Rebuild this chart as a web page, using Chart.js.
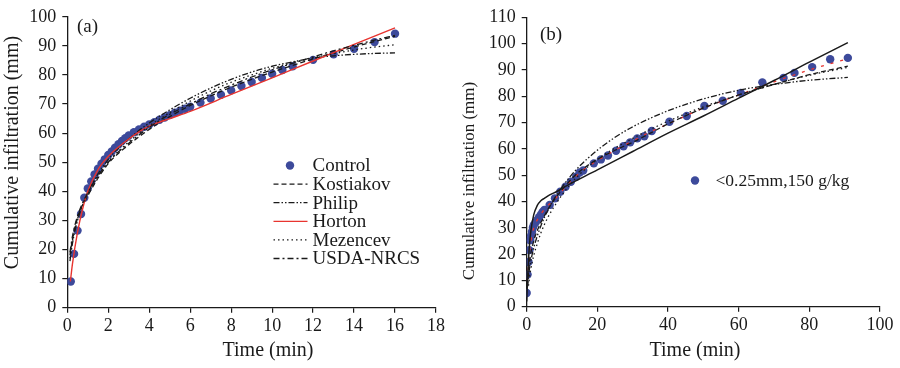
<!DOCTYPE html>
<html><head><meta charset="utf-8">
<script src="https://cdn.jsdelivr.net/npm/chart.js@4/dist/chart.umd.min.js"></script>
<style>
html,body{margin:0;padding:0;background:#fff;width:900px;height:368px;overflow:hidden}
canvas{position:absolute;top:0}
#ca{left:0}#cb{left:450px}
</style></head><body>
<canvas id="ca" width="450" height="368"></canvas>
<canvas id="cb" width="450" height="368"></canvas>
<script>
// ---------- Panel (a) data ----------
const tA = [0.17,0.33,0.5,0.67,0.83,1,1.17,1.33,1.5,1.67,1.83,2,2.17,2.33,2.5,2.67,2.83,3,3.25,3.5,3.75,4,4.25,4.5,4.75,5,5.25,5.5,5.75,6,6.5,7,7.5,8,8.5,9,9.5,10,10.5,11,12,13,14,15,16];
const controlA = [9,18.5,26.5,32.2,37.8,41,43.4,45.8,47.8,49.5,51,52.5,53.7,55,56.2,57.3,58.3,59.2,60.3,61.3,62.2,63,63.8,64.6,65.4,66.2,67,67.7,68.4,69.1,70.5,71.9,73.2,74.7,76.2,77.6,79,80.4,81.7,83,85.2,87.1,89,91.3,94.2];
const tModelA = [0.13,0.25,0.5,1,2,3,4,5,6,7,8,9,10,11,12,13,14,15,16];
const kostiakovA = [18,23.5,31,38.5,49.5,56,61.3,65.7,69.5,72.8,75.8,78.5,81,83.3,85.5,87.6,89.6,91.5,93.3];
const philipA = [16,22,30,39.5,51,58,63.5,68,72,75.5,78.5,81,83,84.5,85.8,86.6,87.1,87.4,87.6];
const mezencevA = [17,23,30.5,39,50,57,62.5,67,71,74.5,77.5,80,82.3,84.2,85.9,87.3,88.6,89.6,90.4];
const usdaA = [19,24.5,31.5,39.5,50,56.5,62,66.5,70,73.5,76.5,79.3,81.8,84,86.2,88.3,90.2,92,93.6];
const tHortonA = [0.15,0.25,0.5,0.75,1,1.5,2,3,4,5,6,8,10,12,14,16];
const hortonA = [9,15,26,34,40,47.5,52,58,62.4,65,67.5,73.3,79,84.8,90.5,96.2];
const legendA = ["Control","Kostiakov","Philip","Horton","Mezencev","USDA-NRCS"];
const xTicksA = [0,18,2]; const yTicksA = [0,100,10];

// ---------- Panel (b) data ----------
const tB = [0,0.25,0.5,0.75,1,1.25,1.5,1.75,2,2.5,3,3.5,4,4.5,5,6.5,8,9.5,11,12.5,14,15,16,19,21,23,25.3,27.4,29.3,31.3,33.3,35.4,40.4,45.3,50.3,55.5,60.6,66.7,72.7,75.8,80.8,85.9,90.9];
const soilB = [5.2,12.2,17,21.5,25.3,27,28.5,30,31,32,33,34,35,36,36.8,38.7,41.2,43.7,45.6,47.5,49.4,51,51.8,54.5,56,57.5,59.3,61,62.5,64,64.8,66.8,70.3,72.5,76.3,78.3,81.3,85.3,87,88.9,91.1,94.1,94.6];
const tSolidB = [0,0.3,0.7,1.2,2,3,4,5,6.5,8.5,10.5,20,30,40,50,60,70,80,90.9];
const solidB = [2,12,22,29,35,38.5,40.3,41.2,42.5,43.8,45.4,52,59,66,72.5,79.3,86,93,100.4];
const tDashB = [0.2,0.5,1,2,3,4,5,6,8,10,13,16,20,25,30,35,40,50,60,70,80,90.9];
const dashB = [8,13,19,25,29,32,34.5,37,41,44.5,49,52.5,56,59.5,62.5,66,69.5,75.5,80.5,84.5,88.2,91.5];
const tPhilipB = [0.2,0.5,1,2,3,4,5,6,8,10,14,20,25,30,40,50,60,70,80,90.9];
const philipB = [7.4,11.6,16.2,22.4,26.9,30.7,33.9,36.7,41.5,45.5,52.1,59.5,64.4,68.4,74.5,79,82.3,84.5,86.1,87.2];
const tRedB = [0.2,0.5,1,2,3,5,8,10,13,16,20,25,30,35,40,50,60,70,80,90.9];
const redB = [10,16,23,30,33,37,41,44,48.5,52,55.5,59.5,63,66.5,69.5,75.5,80.5,85.5,90,94.3];
const tDotB = [0.5,1,2,3,4,6,8,10,14,20,30,40,50,60,70,80,90.9];
const dotB = [8,13,19.5,24,28,34,38.5,42.5,49,56,64,70.5,76,80.5,84.5,88,91];
const legendB = ["<0.25mm,150 g/kg"];
const xTicksB = [0,100,20]; const yTicksB = [0,110,10];

// ---------- helpers ----------
const SERIF = "'Liberation Serif','Times New Roman',serif";
const BLUE = '#3d4a9b', RED = '#e8342f', INK = '#1a1a1a';
const pts = (t, v) => t.map((x, i) => ({x, y: v[i]}));
const DASH = {dash:[5,3], ddot:[6,2,1.5,2,1.5,2], dot:[1.5,3], dashdot:[6,3,2,3], solid:[], red:[3,7]};
function lineDS(label, t, v, color, dash, w){
  return {label, data: pts(t, v), showLine: true, pointRadius: 0, borderColor: color,
    borderWidth: w || 1.3, borderDash: dash, cubicInterpolationMode: 'monotone', fill: false};
}
function pointDS(label, t, v){
  return {label, data: pts(t, v), showLine: false, pointRadius: 4.2, pointBackgroundColor: BLUE,
    pointBorderColor: BLUE, pointBorderWidth: 0};
}
function scales(xt, yt, yW, xH){
  const tickFont = {family: SERIF, size: 18};
  const common = {grid:{display:true, drawOnChartArea:false, drawTicks:true, tickLength:5, color:INK, lineWidth:1.2},
    border:{display:true, color:INK, width:1.3}};
  return {
    x: Object.assign({type:'linear', min:xt[0], max:xt[1], ticks:{stepSize:xt[2], color:INK, font:tickFont, padding:3, maxRotation:0},
      afterFit(s){ s.height = xH; }}, common),
    y: Object.assign({type:'linear', min:yt[0], max:yt[1], ticks:{stepSize:yt[2], color:INK, font:tickFont, padding:6},
      afterFit(s){ s.width = yW; }}, common)
  };
}
function textPlugin(draw){ return {id:'txt'+Math.random().toString(36).slice(2), afterDraw(chart){ const c = chart.ctx; c.save(); draw(c); c.restore(); }}; }
function strokeSample(c, x1, x2, y, color, dash, w){
  c.beginPath(); c.setLineDash(dash); c.strokeStyle = color; c.lineWidth = w || 1.3;
  c.moveTo(x1, y); c.lineTo(x2, y); c.stroke(); c.setLineDash([]);
}

// ---------- Chart (a) ----------
new Chart(document.getElementById('ca'), {
  type: 'scatter',
  data: {datasets: [
    lineDS(legendA[5], tModelA, usdaA, INK, DASH.dashdot),
    lineDS(legendA[4], tModelA, mezencevA, INK, DASH.dot),
    lineDS(legendA[3], tHortonA, hortonA, RED, DASH.solid, 1.4),
    lineDS(legendA[2], tModelA, philipA, INK, DASH.ddot),
    lineDS(legendA[1], tModelA, kostiakovA, INK, DASH.dash),
    pointDS(legendA[0], tA, controlA)
  ]},
  options: {
    responsive: false, animation: false, events: [],
    layout: {padding: {left: 0, top: 13.7, right: 14, bottom: 0}},
    plugins: {legend: {display: false}, tooltip: {enabled: false}},
    scales: scales(xTicksA, yTicksA, 67.3, 60.3)
  },
  plugins: [textPlugin(c => {
    c.fillStyle = INK; c.textBaseline = 'middle';
    c.font = '19px ' + SERIF; c.textAlign = 'center';
    c.fillText('(a)', 87.5, 27);
    // axis titles
    c.font = '20px ' + SERIF;
    c.fillText('Time (min)', 268, 351);
    c.save(); c.translate(13, 152.5); c.rotate(-Math.PI/2); c.fillText('Cumulative infiltration (mm)', 0, 0); c.restore();
    // legend
    c.font = '19px ' + SERIF; c.textAlign = 'left';
    const styles = [null, [INK, DASH.dash], [INK, DASH.ddot], [RED, DASH.solid], [INK, DASH.dot], [INK, DASH.dashdot]];
    legendA.forEach((lab, i) => {
      const y = 165.5 + i * 18.6;
      if (i === 0) { c.beginPath(); c.fillStyle = BLUE; c.arc(290, y, 4.2, 0, Math.PI*2); c.fill(); c.fillStyle = INK; }
      else strokeSample(c, 273.5, 307.5, y, styles[i][0], styles[i][1], 1.3);
      c.fillText(lab, 312.5, y + 1);
    });
  })]
});

// ---------- Chart (b) ----------
new Chart(document.getElementById('cb'), {
  type: 'scatter',
  data: {datasets: [
    lineDS('solid', tSolidB, solidB, INK, DASH.solid, 1.5),
    lineDS('dash', tDashB, dashB, INK, DASH.dash),
    lineDS('dashdotdot', tPhilipB, philipB, INK, DASH.ddot),
    lineDS('dot', tDotB, dotB, INK, DASH.dot),
    lineDS('red', tRedB, redB, RED, DASH.red, 1.3),
    pointDS(legendB[0], tB, soilB)
  ]},
  options: {
    responsive: false, animation: false, events: [],
    layout: {padding: {left: 0, top: 17.4, right: 20, bottom: 0}},
    plugins: {legend: {display: false}, tooltip: {enabled: false}},
    scales: scales(xTicksB, yTicksB, 76.7, 61.3)
  },
  plugins: [textPlugin(c => {
    c.fillStyle = INK; c.textBaseline = 'middle';
    c.font = '19px ' + SERIF; c.textAlign = 'center';
    c.fillText('(b)', 101, 35);
    c.font = '20px ' + SERIF;
    c.fillText('Time (min)', 245, 351);
    c.font = '17px ' + SERIF;
    c.save(); c.translate(20, 181); c.rotate(-Math.PI/2); c.fillText('Cumulative infiltration (mm)', 0, 0); c.restore();
    // legend
    c.beginPath(); c.fillStyle = BLUE; c.arc(245, 180.5, 4.2, 0, Math.PI*2); c.fill();
    c.fillStyle = INK; c.font = '17.5px ' + SERIF; c.textAlign = 'left';
    c.fillText(legendB[0], 265.5, 181.5);
  })]
});
</script>
</body></html>
